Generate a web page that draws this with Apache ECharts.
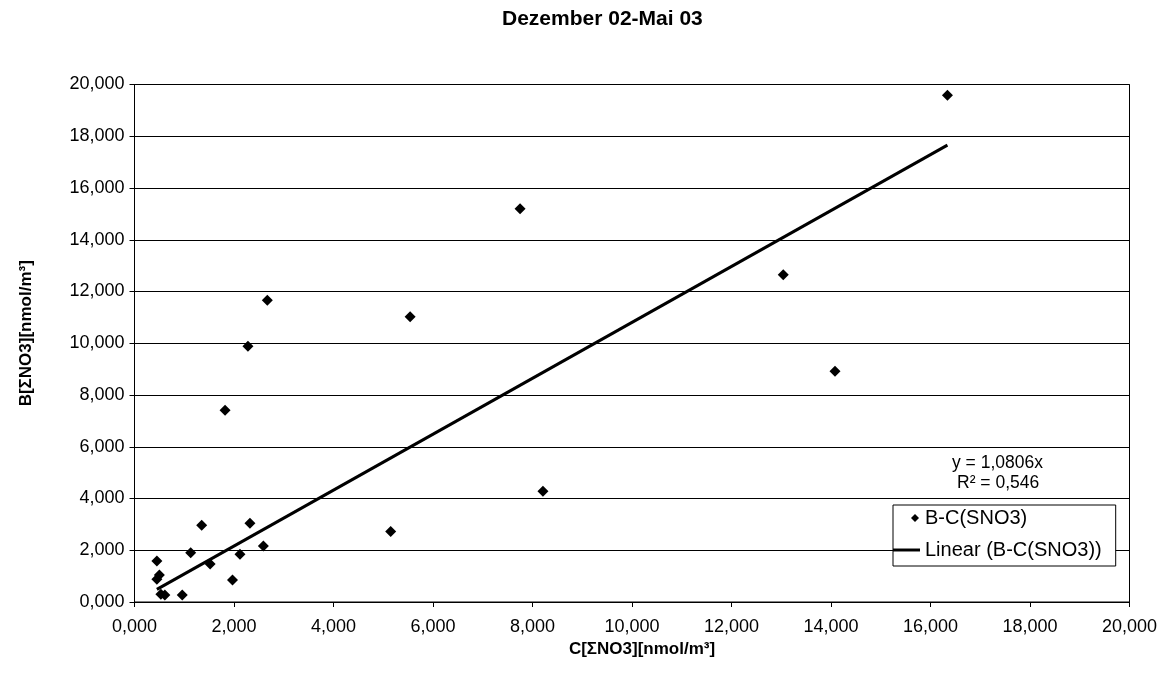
<!DOCTYPE html>
<html>
<head>
<meta charset="utf-8">
<title>Dezember 02-Mai 03</title>
<script src="https://cdn.jsdelivr.net/npm/echarts@6/dist/echarts.min.js"></script>
<style>
    html, body { margin: 0; padding: 0; background: #fff; }
    #main { width: 1169px; height: 677px; }
</style>
</head>
<body>
<div id="main"></div>
<script>
var cValues = [0.45, 0.45, 0.50, 0.53, 0.61, 0.96, 1.13, 1.35, 1.52, 1.82, 1.97, 2.12, 2.28, 2.32, 2.59, 2.67, 5.15, 5.54, 7.75, 8.21, 13.04, 14.08, 16.34];
var bValues = [1.58, 0.88, 1.04, 0.30, 0.27, 0.27, 1.90, 2.97, 1.47, 7.41, 0.85, 1.85, 9.88, 3.04, 2.16, 11.66, 2.72, 11.02, 15.20, 4.28, 12.65, 8.92, 19.58];
var tickValues = [0, 2, 4, 6, 8, 10, 12, 14, 16, 18, 20];
// Trendlinie aus Excel
var trendSlope = 1.0806;
var trendR2 = '0,546';

var seriesName = 'B-C(SNO3)';
var trendName = 'Linear (B-C(SNO3))';
var fontName = '"Liberation Sans", Arial, sans-serif';

function fmt(v) {
    return v.toFixed(3).replace('.', ',');
}

var points = [];
for (var i = 0; i < cValues.length; i++) {
    points.push([cValues[i], bValues[i]]);
}
var xMin = Math.min.apply(null, cValues);
var xMax = Math.max.apply(null, cValues);
var trendLine = [[xMin, trendSlope * xMin], [xMax, trendSlope * xMax]];

var chart = echarts.init(document.getElementById('main'));

var axisCommon = {
    type: 'value',
    min: tickValues[0],
    max: tickValues[tickValues.length - 1],
    interval: tickValues[1] - tickValues[0],
    axisLine: { show: true, lineStyle: { color: '#000', width: 1 } },
    axisTick: { show: true, length: 5, lineStyle: { color: '#000' } },
    axisLabel: { color: '#000', fontFamily: fontName, fontSize: 18, formatter: fmt },
    nameLocation: 'middle',
    nameTextStyle: { color: '#000', fontFamily: fontName, fontSize: 17, fontWeight: 'bold' }
};

// Legendensymbole: kleine Raute bzw. Linie (unsichtbare Punkte halten die Breite)
var diamondIcon = 'path://M0,0 L0,0 M27,14 L27,14 M22,3 L26,7 L22,11 L18,7 Z';
var lineIcon = 'path://M0,5.5 L30,5.5 L30,8.8 L0,8.8 Z';

var option = {
    backgroundColor: '#fff',
    animation: false,
    title: {
        text: 'Dezember 02-Mai 03',
        left: 497,
        top: 4,
        textStyle: { color: '#000', fontFamily: fontName, fontSize: 21, fontWeight: 'bold' }
    },
    grid: {
        left: 134.5,
        right: 39.5,
        top: 84.5,
        bottom: 75,
        show: true,
        borderColor: '#000',
        borderWidth: 1
    },
    xAxis: echarts.util.merge({
        name: 'C[ΣNO3][nmol/m³]',
        nameGap: 39,
        nameTextStyle: { padding: [0, 0, 0, 20] },
        axisLabel: { margin: 16 },
        splitLine: { show: false }
    }, axisCommon),
    yAxis: echarts.util.merge({
        name: 'B[ΣNO3][nmol/m³]',
        nameGap: 100,
        nameTextStyle: { padding: [0, 0, 0, 20] },
        axisLabel: { margin: 10 },
        splitLine: { show: true, lineStyle: { color: '#000', width: 1 } }
    }, axisCommon),
    legend: {
        orient: 'vertical',
        left: 893,
        top: 505,
        padding: [3, 14, 6, 0],
        itemGap: 12,
        itemWidth: 27,
        itemHeight: 14,
        backgroundColor: '#fff',
        borderColor: '#000',
        borderWidth: 1,
        textStyle: { color: '#000', fontFamily: fontName, fontSize: 20 },
        data: [
            { name: seriesName, icon: diamondIcon, itemStyle: { color: '#000' } },
            { name: trendName, icon: lineIcon, itemStyle: { color: '#000' } }
        ]
    },
    graphic: [
        {
            type: 'text',
            left: 952,
            top: 454,
            style: { text: 'y = 1,0806x', fill: '#000', font: '17.5px ' + fontName }
        },
        {
            type: 'text',
            left: 957,
            top: 474,
            style: { text: 'R² = ' + trendR2, fill: '#000', font: '17.5px ' + fontName }
        }
    ],
    series: [
        {
            name: seriesName,
            type: 'scatter',
            symbol: 'diamond',
            symbolSize: 11,
            itemStyle: { color: '#000', opacity: 1 },
            data: points,
            z: 3
        },
        {
            name: trendName,
            type: 'line',
            symbol: 'none',
            lineStyle: { color: '#000', width: 3 },
            itemStyle: { color: '#000' },
            data: trendLine,
            z: 2
        }
    ]
};

chart.setOption(option);
</script>
</body>
</html>
